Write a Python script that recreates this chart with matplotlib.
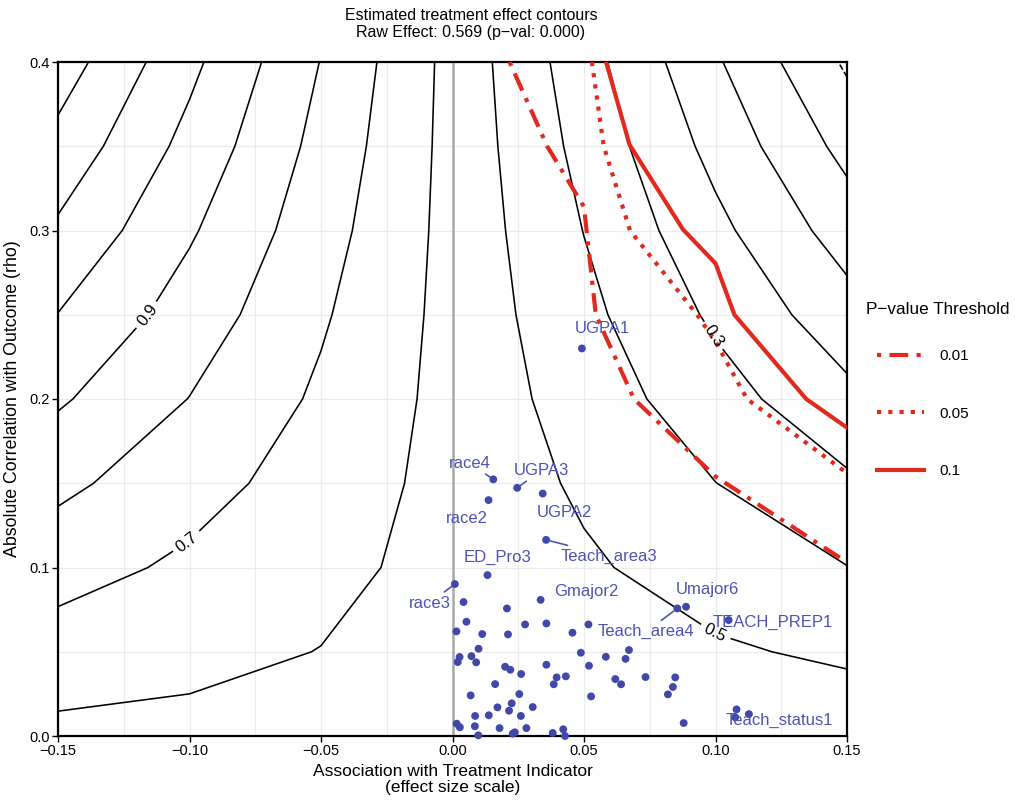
import numpy as np
import matplotlib
matplotlib.use("Agg")
import matplotlib.pyplot as plt

plt.rcParams['font.family'] = ['Liberation Sans', 'DejaVu Sans']

# grid of estimated effects (rows = rho, cols = association)
grid_x = [-0.15, -0.10, -0.05, 0.00, 0.05, 0.10, 0.15]
grid_y = [0.00, 0.05, 0.10, 0.15, 0.20, 0.25, 0.30, 0.35, 0.40]
effect = [
    [0.577, 0.574, 0.572, 0.569, 0.567, 0.564, 0.562],
    [0.655, 0.626, 0.598, 0.569, 0.541, 0.512, 0.484],
    [0.739, 0.682, 0.626, 0.569, 0.513, 0.456, 0.402],
    [0.823, 0.738, 0.654, 0.569, 0.485, 0.401, 0.316],
    [0.913, 0.798, 0.684, 0.569, 0.455, 0.340, 0.226],
    [0.998, 0.855, 0.712, 0.569, 0.426, 0.283, 0.140],
    [1.084, 0.912, 0.741, 0.569, 0.398, 0.226, 0.054],
    [1.169, 0.969, 0.769, 0.569, 0.369, 0.169, -0.031],
    [1.253, 1.025, 0.797, 0.569, 0.341, 0.113, -0.115],
]
plain_levels = [-0.1, 0.0, 0.1, 0.2, 0.4, 0.6, 0.8, 1.0, 1.1, 1.2]
labelled_levels = [0.3, 0.5, 0.7, 0.9]

# p-value threshold lines
p01_x = [0.0217, 0.036, 0.050, 0.0545, 0.069, 0.100, 0.150]
p01_y = [0.400, 0.350, 0.314, 0.250, 0.200, 0.154, 0.103]
p05_x = [0.053, 0.0575, 0.0675, 0.093, 0.100, 0.112, 0.150]
p05_y = [0.400, 0.350, 0.300, 0.250, 0.234, 0.200, 0.156]
p10_x = [0.0584, 0.0673, 0.0876, 0.100, 0.1072, 0.1345, 0.150]
p10_y = [0.400, 0.351, 0.3007, 0.2805, 0.250, 0.200, 0.183]

# covariates
other_x = [0.0042, 0.0207, 0.0053, 0.0015, 0.0113, 0.0211, 0.0276, 0.0357, 0.0456,
           0.0517, 0.0099, 0.0072, 0.0027, 0.0020, 0.0090, 0.0488, 0.0583, 0.0658,
           0.0671, 0.0519, 0.0357, 0.0200, 0.0220, 0.0261, 0.0396, 0.0431, 0.0385,
           0.0162, 0.0619, 0.0641, 0.0734, 0.0847, 0.0838, 0.0819, 0.0069, 0.0254,
           0.0527, 0.0225, 0.0171, 0.0215, 0.0305, 0.0086, 0.0138, 0.0260, 0.0016,
           0.0028, 0.0085, 0.0179, 0.0281, 0.0229, 0.0237, 0.0098, 0.0381, 0.0421,
           0.0428, 0.0879, 0.1080, 0.1127]
other_y = [0.0795, 0.0757, 0.0678, 0.0621, 0.0605, 0.0603, 0.0662, 0.0668, 0.0613,
           0.0662, 0.0518, 0.0474, 0.0469, 0.0439, 0.0437, 0.0494, 0.0470, 0.0458,
           0.0510, 0.0417, 0.0423, 0.0411, 0.0393, 0.0368, 0.0348, 0.0354, 0.0307,
           0.0308, 0.0338, 0.0307, 0.0350, 0.0348, 0.0291, 0.0247, 0.0241, 0.0249,
           0.0235, 0.0194, 0.0170, 0.0150, 0.0172, 0.0119, 0.0123, 0.0119, 0.0073,
           0.0052, 0.0058, 0.0047, 0.0047, 0.0014, 0.0022, 0.0004, 0.0018, 0.0040,
           0.0000, 0.0077, 0.0158, 0.0130]

names = ['UGPA1', 'race4', 'UGPA3', 'UGPA2', 'race2', 'Teach_area3', 'ED_Pro3',
         'race3', 'Gmajor2', 'Umajor6', 'Teach_area4', 'TEACH_PREP1', 'Teach_status1']
named_x = [0.0492, 0.0155, 0.0246, 0.0343, 0.0137, 0.0356, 0.0133,
           0.0009, 0.0335, 0.0888, 0.0855, 0.1050, 0.1075]
named_y = [0.2300, 0.1523, 0.1473, 0.1439, 0.1400, 0.1164, 0.0955,
           0.0902, 0.0808, 0.0767, 0.0757, 0.0688, 0.0111]
label_x = [0.0571, 0.0066, 0.0339, 0.0425, 0.0054, 0.0596, 0.0173,
           -0.0087, 0.0509, 0.0971, 0.0737, 0.1217, 0.1243]
label_y = [0.2420, 0.1620, 0.1578, 0.1329, 0.1290, 0.1068, 0.1059,
           0.0789, 0.0860, 0.0872, 0.0620, 0.0673, 0.0090]
has_segment = [False, True, True, False, False, True, False,
               True, False, False, True, False, False]

xticks = [-0.15, -0.10, -0.05, 0.00, 0.05, 0.10, 0.15]
xtick_labels = ['\u22120.15', '\u22120.10', '\u22120.05', '0.00', '0.05', '0.10', '0.15']
yticks = [0.0, 0.1, 0.2, 0.3, 0.4]
ytick_labels = ['0.0', '0.1', '0.2', '0.3', '0.4']

red = '#E1291D'
pt_col = '#4048A8'
lab_col = '#4B54B4'

fig = plt.figure(figsize=(10.21, 8), dpi=100)
ax = fig.add_axes([58 / 1021, 64 / 800, 789 / 1021, 674 / 800])

ax.set_xlim(-0.15, 0.15)
ax.set_ylim(0, 0.4)
ax.set_xticks(xticks)
ax.set_xticklabels(xtick_labels, fontsize=10.5)
ax.set_yticks(yticks)
ax.set_yticklabels(ytick_labels, fontsize=10.5)
ax.set_xticks(np.arange(-0.15, 0.151, 0.025), minor=True)
ax.set_yticks(np.arange(0, 0.401, 0.05), minor=True)
ax.tick_params(which='minor', length=0)
ax.tick_params(which='major', length=4, width=1, color='black', pad=2)
ax.grid(which='both', color='#EBEBEB', lw=0.9)
ax.set_axisbelow(True)
for s in ax.spines.values():
    s.set_linewidth(1.6)
    s.set_color('black')

ax.axvline(0, color='#A8A8A8', lw=1.8, zorder=1)

ax.contour(grid_x, grid_y, effect, levels=plain_levels, colors='black',
           linewidths=1.15, zorder=2)
cs = ax.contour(grid_x, grid_y, effect, levels=labelled_levels, colors='black',
                linewidths=1.15, zorder=2)
ax.clabel(cs, inline=True, fontsize=12, fmt='%.1f',
          manual=[(0.0996, 0.238), (0.0998, 0.061), (-0.1005, 0.114), (-0.1154, 0.2487)])

l1, = ax.plot(p01_x, p01_y, color=red, lw=3, ls=(0, (1, 2, 4.5, 2)),
              dash_capstyle='butt', zorder=3)
l2, = ax.plot(p05_x, p05_y, color=red, lw=3, ls=(0, (1, 1.7)),
              dash_capstyle='butt', zorder=3)
l3, = ax.plot(p10_x, p10_y, color=red, lw=3, ls='-', zorder=3)

ax.scatter(other_x + named_x, other_y + named_y, s=32, color=pt_col,
           edgecolors='none', zorder=5, clip_on=False)

for n, px, py, lx, ly, seg in zip(names, named_x, named_y, label_x, label_y, has_segment):
    if seg:
        ax.annotate(n, xy=(px, py), xytext=(lx, ly), ha='center', va='center',
                    fontsize=12, color=lab_col, zorder=6,
                    arrowprops=dict(arrowstyle='-', color=lab_col, lw=1.2,
                                    shrinkA=1, shrinkB=3))
    else:
        ax.text(lx, ly, n, ha='center', va='center', fontsize=12,
                color=lab_col, zorder=6)

ax.set_xlabel('Association with Treatment Indicator\n(effect size scale)', fontsize=12.5,
              labelpad=4, linespacing=1.1)
ax.set_ylabel('Absolute Correlation with Outcome (rho)', fontsize=12.8, labelpad=6)

fig.text(471 / 1021, 1 - 15 / 800, 'Estimated treatment effect contours',
         ha='center', va='center', fontsize=11.5)
fig.text(471 / 1021, 1 - 33 / 800, 'Raw Effect: 0.569 (p\u2212val: 0.000)',
         ha='center', va='center', fontsize=11.5)

# legend: title as its own text so the gap above the keys can differ
fig.text(866 / 1021, 1 - 310 / 800, 'P\u2212value Threshold', ha='left', va='center',
         fontsize=12.3)
ax.legend([l1, l2, l3], ['0.01', '0.05', '0.1'],
          loc='upper left', bbox_to_anchor=(877 / 1021, 1 - 349 / 800),
          bbox_transform=fig.transFigure, frameon=False, fontsize=11,
          handlelength=3.1, labelspacing=2.85, handletextpad=0.95,
          borderpad=0, borderaxespad=0)

fig.savefig('out.png', dpi=100)
